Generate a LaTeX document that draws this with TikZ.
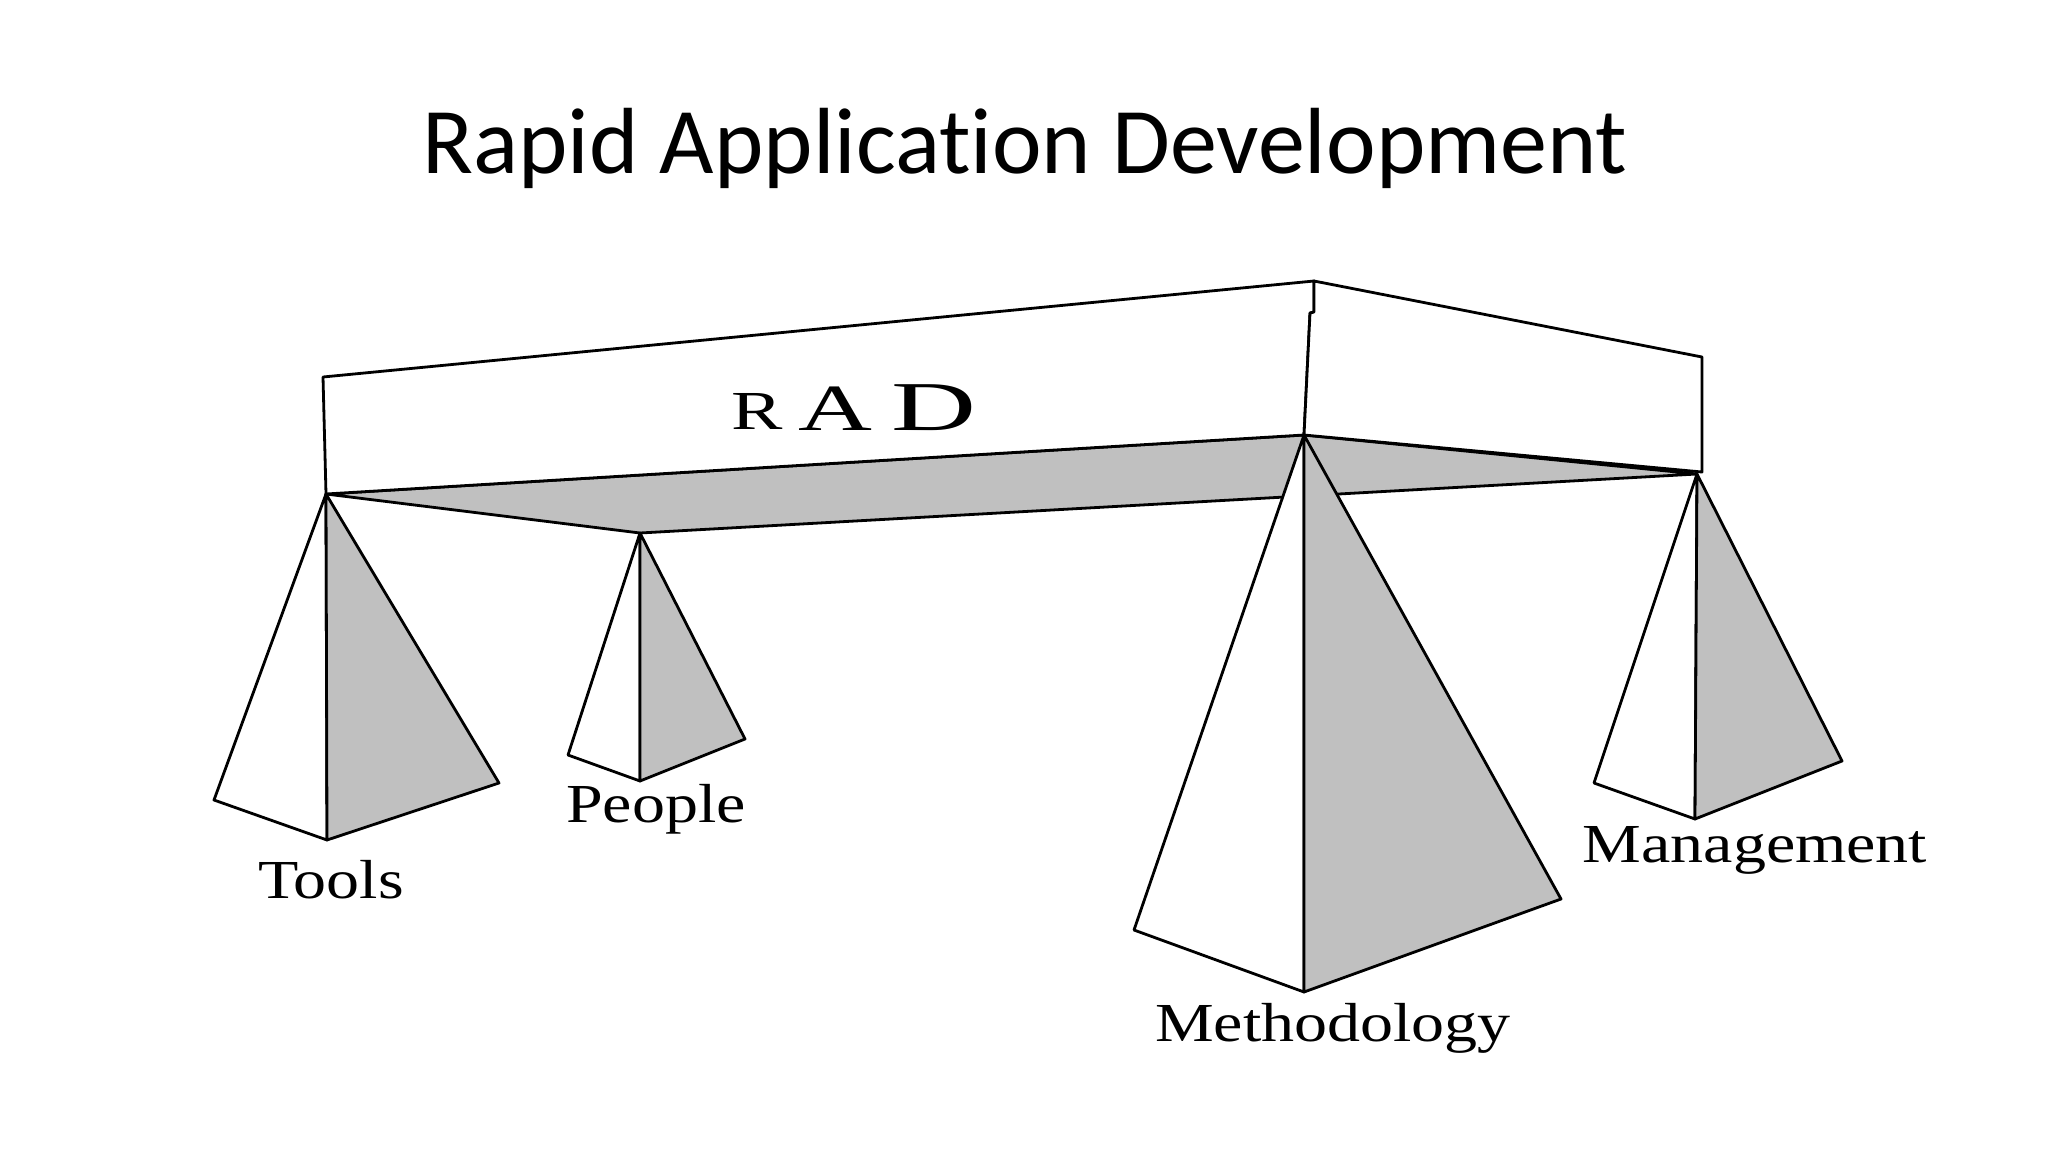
\documentclass[tikz,border=0pt]{standalone}
\usepackage{fontspec}
\setmainfont{Liberation Serif}
\newfontfamily\titlefont[Ligatures=NoCommon]{Carlito}
\definecolor{facegray}{RGB}{192,192,192}
\begin{document}
\begin{tikzpicture}[x=1pt,y=-1pt,
  edge/.style={draw=black,line width=2.8pt,line join=round,line cap=round},
  grayface/.style={fill=facegray},
  whiteface/.style={fill=white},
  lbl/.style={anchor=base,inner sep=0pt,font=\fontsize{55}{60}\selectfont},
  radletter/.style={anchor=base,inner sep=0pt}]
\useasboundingbox (0,0) rectangle (2048,1152);
% title
\node[anchor=base,inner sep=0pt,font=\titlefont\fontsize{94}{100}\selectfont] (title) at (1025,173) {Rapid Application Development};
% slab vertices
\coordinate (tl) at (323,377);
\coordinate (peak) at (1314,281);
\coordinate (jogA) at (1314,312);
\coordinate (jogB) at (1310,313);
\coordinate (rt) at (1702,357);
\coordinate (rb) at (1702,472);
% apexes
\coordinate (ta) at (326,494);
\coordinate (pa) at (640,533);
\coordinate (ma) at (1304,435);
\coordinate (ga) at (1697,474);
% gray bottom band
\path[edge,grayface] (ta) -- (ma) -- (ga) -- (pa) -- cycle;
% front face and right face
\path[edge,whiteface] (ta) -- (tl) -- (peak) -- (jogA) -- (jogB) -- (ma) -- cycle;
\path[edge,whiteface] (jogB) -- (jogA) -- (peak) -- (rt) -- (rb) -- (ma) -- cycle;
% RAD label
\node[radletter,font=\fontsize{55}{60}\selectfont] (radR) at (757,429) {\scalebox{1.4}[1]{R}};
\node[radletter,font=\fontsize{66}{70}\selectfont] (radA) at (835,430) {\scalebox{1.55}[1]{A}};
\node[radletter,font=\fontsize{70}{74}\selectfont] (radD) at (934,430) {\scalebox{1.68}[1]{D}};
% pyramid: Tools
\coordinate (tL) at (214,800);
\coordinate (tB) at (327,840);
\coordinate (tR) at (499,783);
\path[edge,whiteface] (ta) -- (tL) -- (tB) -- cycle;
\path[edge,grayface] (ta) -- (tB) -- (tR) -- cycle;
% pyramid: People
\coordinate (pL) at (568,755);
\coordinate (pB) at (640,781);
\coordinate (pR) at (745,739);
\path[edge,whiteface] (pa) -- (pL) -- (pB) -- cycle;
\path[edge,grayface] (pa) -- (pB) -- (pR) -- cycle;
% pyramid: Methodology
\coordinate (mL) at (1134,930);
\coordinate (mB) at (1304,992);
\coordinate (mR) at (1561,899);
\path[edge,whiteface] (ma) -- (mL) -- (mB) -- cycle;
\path[edge,grayface] (ma) -- (mB) -- (mR) -- cycle;
% pyramid: Management
\coordinate (gL) at (1594,783);
\coordinate (gB) at (1695,819);
\coordinate (gR) at (1842,761);
\path[edge,whiteface] (ga) -- (gL) -- (gB) -- cycle;
\path[edge,grayface] (ga) -- (gB) -- (gR) -- cycle;
% labels
\node[lbl] (tools) at (331,898) {\scalebox{1.2}[1]{Tools}};
\node[lbl] (people) at (656,822) {\scalebox{1.2}[1]{People}};
\node[lbl] (mgmt) at (1755,862) {\scalebox{1.2}[1]{Management}};
\node[lbl] (meth) at (1333,1041) {\scalebox{1.2}[1]{Methodology}};
\end{tikzpicture}
\end{document}
